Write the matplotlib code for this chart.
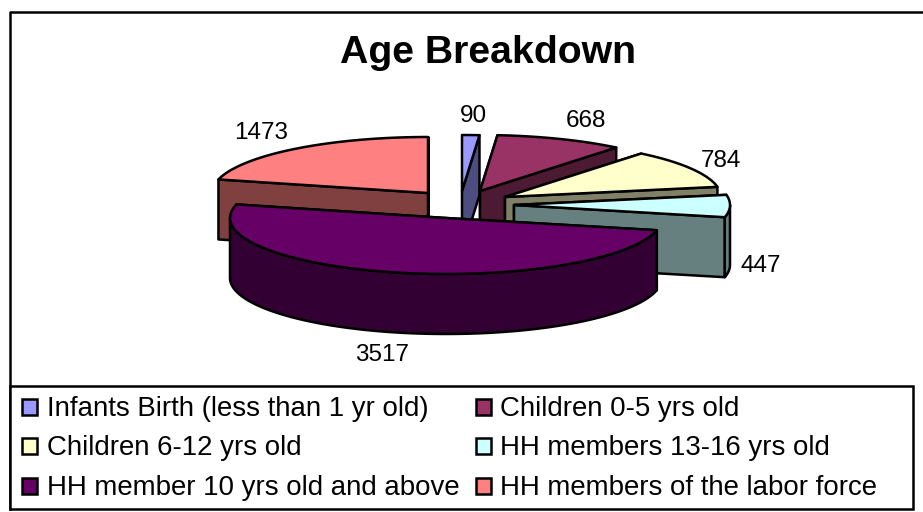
import numpy as np
import matplotlib
matplotlib.use('Agg')
import matplotlib.pyplot as plt
from matplotlib.patches import Polygon, Rectangle

labels = ['Infants Birth (less than 1 yr old)', 'Children 0-5 yrs old',
          'Children 6-12 yrs old', 'HH members 13-16 yrs old',
          'HH member 10 yrs old and above', 'HH members of the labor force']
values = [90, 668, 784, 447, 3517, 1473]
colors = ['#9999FF', '#993366', '#FFFFCC', '#CCFFFF', '#660066', '#FF8080']
dark = ['#4D4D80', '#4D1A33', '#808066', '#668080', '#330033', '#804040']

# where the point of each exploded slice sits, in pixels
apex = [(462, 191), (480, 191), (505, 197), (514, 205), (446, 218), (428, 193)]
label_pos = [(473, 122), (586, 127), (721, 167), (761, 272), (382, 361), (261, 139)]
draw_order = [5, 0, 1, 2, 3, 4]

rx, ry, depth = 216, 56, 60

plt.rcParams['font.family'] = ['Liberation Sans', 'DejaVu Sans']
fig = plt.figure(figsize=(9.23, 5.12), dpi=100)
ax = fig.add_axes([0, 0, 1, 1])
ax.set_xlim(0, 923)
ax.set_ylim(512, 0)
ax.axis('off')


def rim(c, a0, a1):
    t = np.radians(np.linspace(a0, a1, 80))
    return np.column_stack([c[0] + rx * np.sin(t), c[1] - ry * np.cos(t)])


def face(pts, color, z):
    ax.add_patch(Polygon(pts, closed=True, facecolor=color, edgecolor='black',
                         lw=1.8, joinstyle='round', zorder=z))


edges = np.cumsum([0] + values) / sum(values) * 360
# outer frame runs off the right side of the picture
ax.plot([923, 10, 10], [12, 12, 509], color='black', lw=1.8, zorder=1)

z = 2
for i in draw_order:
    c = np.array(apex[i], dtype=float)
    a0, a1 = edges[i], edges[i + 1]
    down = np.array([0, depth])
    for a in (a0, a1):
        p = rim(c, a, a)[0]
        face([c, p, p + down, c + down], dark[i], z)
        z += 1
    # outer wall, only the part that faces the viewer
    lo, hi = max(a0, 90), min(a1, 270)
    if hi > lo:
        arc = rim(c, lo, hi)
        face(np.vstack([arc, (arc + down)[::-1]]), dark[i], z)
        z += 1
    face(np.vstack([[c], rim(c, a0, a1)]), colors[i], z)
    z += 1

ax.text(488, 63, 'Age Breakdown', ha='center', va='baseline', fontsize=28.3,
        fontweight='bold', zorder=z)
for v, (x, y) in zip(values, label_pos):
    ax.text(x, y, str(v), ha='center', va='baseline', fontsize=17.5, zorder=z)

# legend
ax.add_patch(Rectangle((10, 386), 903, 123, facecolor='white', edgecolor='black', lw=1.8, zorder=z))
z += 1
baselines = [416, 455, 495]
boxes = [399, 438, 478]
cols = [(22, 47), (476, 500)]
for i, name in enumerate(labels):
    mx, tx = cols[i % 2]
    ax.add_patch(Rectangle((mx, boxes[i // 2]), 15, 16, facecolor=colors[i], edgecolor='black', lw=1.8, zorder=z))
    ax.text(tx, baselines[i // 2], name, ha='left', va='baseline', fontsize=19.9, zorder=z)

fig.savefig('out.png', dpi=100)
